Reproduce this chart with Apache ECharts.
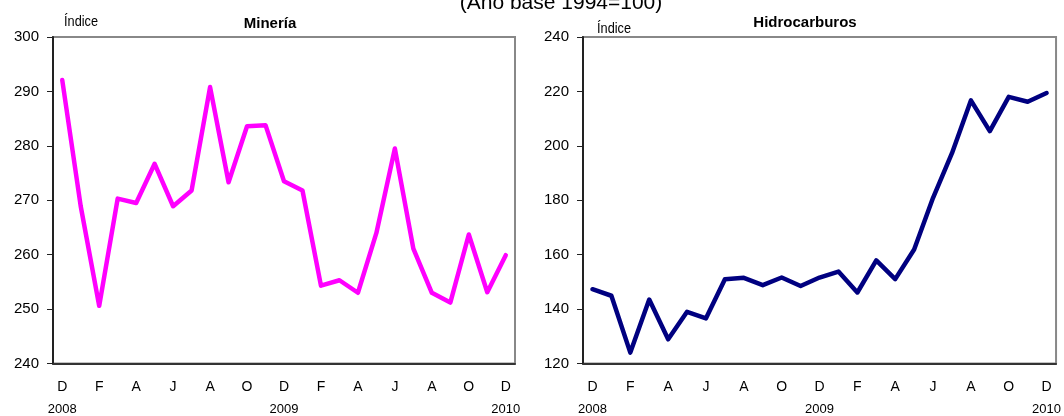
<!DOCTYPE html>
<html><head><meta charset="utf-8">
<script src="https://cdn.jsdelivr.net/npm/echarts@6/dist/echarts.min.js"></script>
<style>html,body{margin:0;padding:0;background:#fff}#c{width:1064px;height:416px}</style>
</head><body><div id="c"></div>
<script>
const months = ['D','E','F','M','A','M','J','J','A','S','O','N','D','E','F','M','A','M','J','J','A','S','O','N','D'];
const yearLabels = ['2008','','','','','','','','','','','','2009','','','','','','','','','','','','2010'];
const mineria = [292.1,268.9,250.6,270.3,269.5,276.7,268.9,271.8,290.8,273.3,283.6,283.8,273.5,271.8,254.3,255.3,253.0,264.0,279.5,261.1,253.0,251.2,263.7,253.1,259.9];
const hidrocarburos = [147.3,144.9,124.0,143.5,128.9,139.0,136.6,151.0,151.5,148.8,151.6,148.5,151.6,153.8,146.1,157.9,151.0,161.9,180.9,197.3,216.7,205.4,218.0,216.2,219.4];
const mainTitle = '(Año base 1994=100)';
const titles = ['Minería','Hidrocarburos'];
const yUnit = 'Índice';

const narrow = '"Liberation Sans Narrow","Arial Narrow","Liberation Sans",sans-serif';
const sans = '"Liberation Sans",Arial,sans-serif';

function xAxis(gi){
  return {
    type:'category', gridIndex:gi, data:months, boundaryGap:true,
    axisLine:{lineStyle:{color:'#333',width:2}},
    axisTick:{interval:0, length:5, inside:false, lineStyle:{color:'#222',width:1}},
    axisLabel:{interval:1, margin:13, color:'#000', fontFamily:narrow, fontSize:14,
      formatter:function(v,i){return '{m|'+v+'}\n{y|'+(yearLabels[i]||' ')+'}';},
      rich:{m:{fontFamily:narrow,fontSize:14,lineHeight:22,color:'#000'},y:{fontFamily:narrow,fontSize:13,lineHeight:22,color:'#000'}}
    },
    splitLine:{show:false}
  };
}
function yAxis(gi,min,max,interval){
  return {
    type:'value', gridIndex:gi, min:min, max:max, interval:interval,
    axisLine:{show:true,lineStyle:{color:'#222',width:2}},
    axisTick:{show:true,length:6,lineStyle:{color:'#222',width:1}},
    axisLabel:{color:'#000',fontFamily:sans,fontSize:15,margin:14},
    splitLine:{show:false}
  };
}
const chart = echarts.init(document.getElementById('c'),null,{renderer:'canvas'});
chart.setOption({
  backgroundColor:'#fff',
  animation:false,
  title:[
    {text:mainTitle,left:556,top:-12,textAlign:'center',textStyle:{fontFamily:sans,fontWeight:'normal',fontSize:21,color:'#000'}},
    {text:titles[0],left:265,top:11,textAlign:'center',textStyle:{fontFamily:sans,fontWeight:'bold',fontSize:15,color:'#000'}},
    {text:titles[1],left:800,top:10,textAlign:'center',textStyle:{fontFamily:sans,fontWeight:'bold',fontSize:15,color:'#000'}}
  ],
  graphic:[
    {type:'text',x:64,y:14,scaleX:0.85,style:{text:yUnit,fontFamily:narrow,fontSize:15,fill:'#000'}},
    {type:'text',x:597,y:21,scaleX:0.85,style:{text:yUnit,fontFamily:narrow,fontSize:15,fill:'#000'}}
  ],
  grid:[
    {left:53,right:549,top:37,bottom:51,show:true,borderColor:'#888',borderWidth:2,backgroundColor:'transparent'},
    {left:583,right:6,top:37,bottom:51,show:true,borderColor:'#888',borderWidth:2,backgroundColor:'transparent'}
  ],
  xAxis:[xAxis(0),xAxis(1)],
  yAxis:[yAxis(0,240,300,10),yAxis(1,120,240,20)],
  series:[
    {type:'line',xAxisIndex:0,yAxisIndex:0,data:mineria,symbol:'none',lineStyle:{color:'#FF00FF',width:4.5,join:'round',cap:'round'}},
    {type:'line',xAxisIndex:1,yAxisIndex:1,data:hidrocarburos,symbol:'none',lineStyle:{color:'#000080',width:4.5,join:'round',cap:'round'}}
  ]
});
</script></body></html>
